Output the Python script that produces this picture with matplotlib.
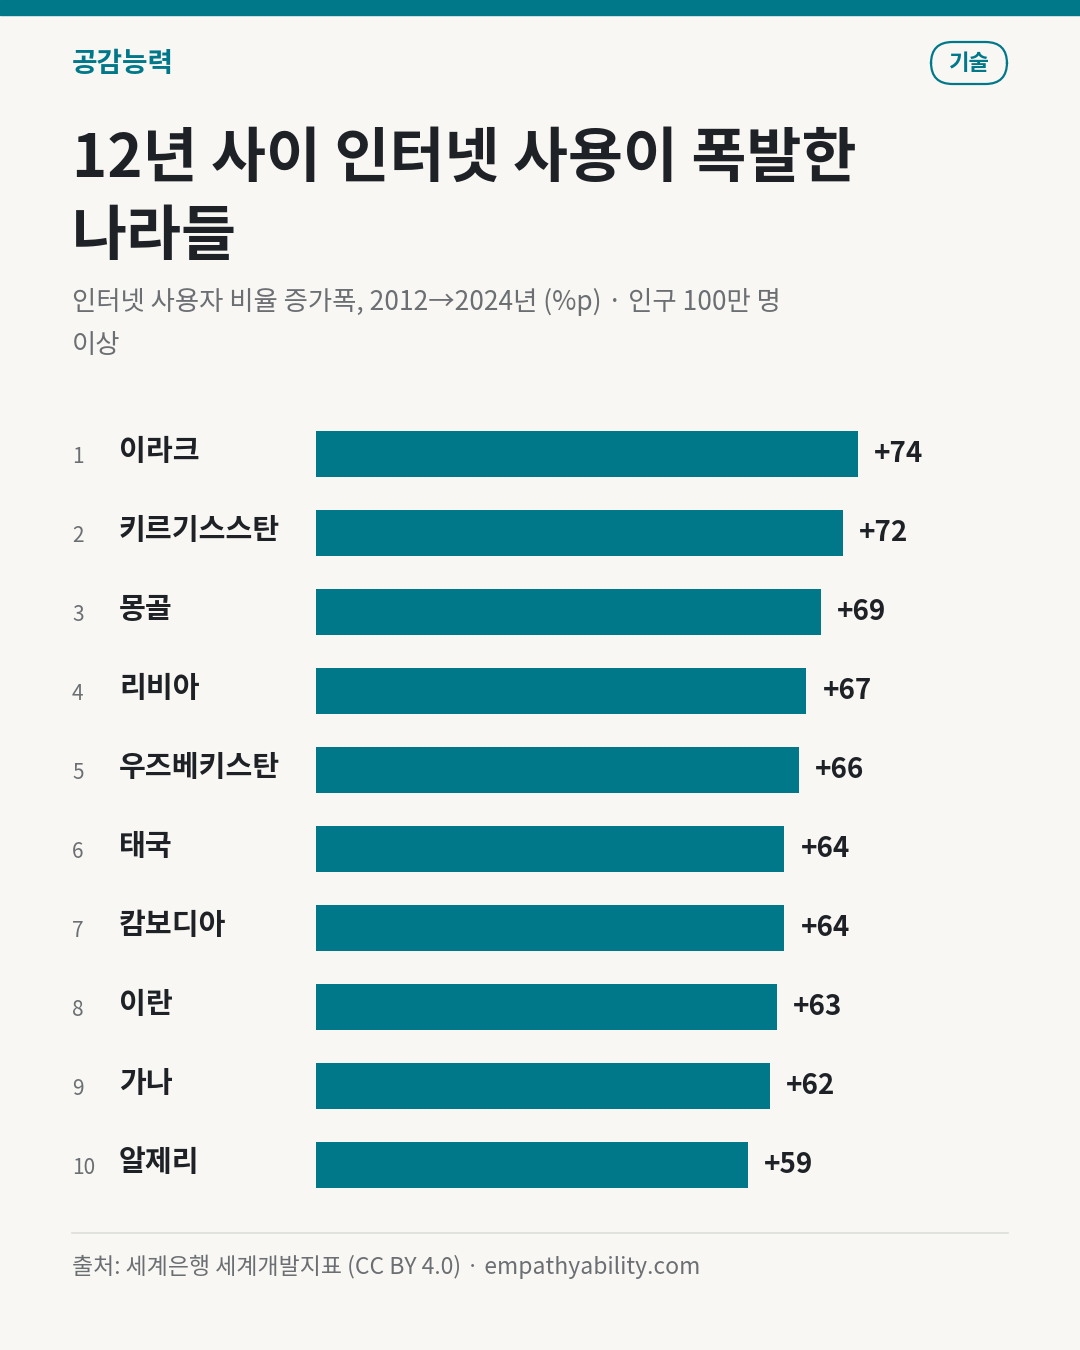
import matplotlib
matplotlib.use("Agg")
import matplotlib.pyplot as plt
from matplotlib.patches import FancyBboxPatch

plt.rcParams['font.family'] = ['Noto Sans CJK KR', 'DejaVu Sans']

countries = ["이라크", "키르기스스탄", "몽골", "리비아", "우즈베키스탄", "태국", "캄보디아", "이란", "가나", "알제리"]
gains = [74, 72, 69, 67, 66, 64, 64, 63, 62, 59]
ranks = list(range(1, len(countries) + 1))

TEAL = "#00788A"
BG = "#F8F7F3"
DARK = "#1E2226"
GRAY = "#6B6F73"

W, H = 1080, 1350
fig = plt.figure(figsize=(W / 100, H / 100), dpi=100, facecolor=BG)

def fx(px):
    return px / W

def fy(py):
    return 1 - py / H

# top band
fig.patches.append(plt.Rectangle((0, fy(15)), 1, 15 / H, transform=fig.transFigure,
                                 color=TEAL, zorder=0))

fig.text(fx(72), fy(64), "공감능력", color=TEAL, fontsize=20, fontweight="bold", va="center")
pill = FancyBboxPatch((fx(931), fy(84)), fx(76), 42 / H, boxstyle="round,pad=0,rounding_size=0.02",
                      transform=fig.transFigure, facecolor="none", edgecolor=TEAL, lw=1.6,
                      mutation_aspect=W / H)
fig.patches.append(pill)
fig.text(fx(969), fy(63), "기술", color=TEAL, fontsize=16, fontweight="bold", ha="center", va="center")

fig.text(fx(72), fy(160), "12년 사이 인터넷 사용이 폭발한", color=DARK, fontsize=43,
         fontweight="bold", va="center")
fig.text(fx(72), fy(238), "나라들", color=DARK, fontsize=43, fontweight="bold", va="center")
fig.text(fx(72), fy(302), "인터넷 사용자 비율 증가폭, 2012→2024년 (%p) · 인구 100만 명",
         color=GRAY, fontsize=19, va="center")
fig.text(fx(72), fy(346), "이상", color=GRAY, fontsize=19, va="center")

# chart axes: 7.32 px per unit
left, right, top, bottom = 316, 1000, 414.5, 1204.5
ax = fig.add_axes([fx(left), fy(bottom), fx(right - left), (bottom - top) / H])
ax.set_facecolor("none")
ax.barh(ranks, gains, height=0.58, color=TEAL)
ax.set_xlim(0, (right - left) / 7.32)
ax.set_ylim(10.5, 0.5)
ax.axis("off")

for r, c, g in zip(ranks, countries, gains):
    y = fy(top + (r - 0.5) * 79)
    fig.text(fx(72), y - 3 / H, str(r), color=GRAY, fontsize=15, va="center")
    fig.text(fx(119), y + 3 / H, c, color=DARK, fontsize=21, fontweight="bold", va="center")
    ax.text(g + 16 / 7.32, r, f"+{g}", color=DARK, fontsize=20, fontweight="bold", va="center")

fig.add_artist(plt.Line2D([fx(72), fx(1008)], [fy(1233), fy(1233)], color="#DDDDDA", lw=1.2))
fig.text(fx(72), fy(1267), "출처: 세계은행 세계개발지표 (CC BY 4.0) · empathyability.com",
         color=GRAY, fontsize=16.5, va="center")

fig.savefig("out.png", dpi=100, facecolor=BG)
